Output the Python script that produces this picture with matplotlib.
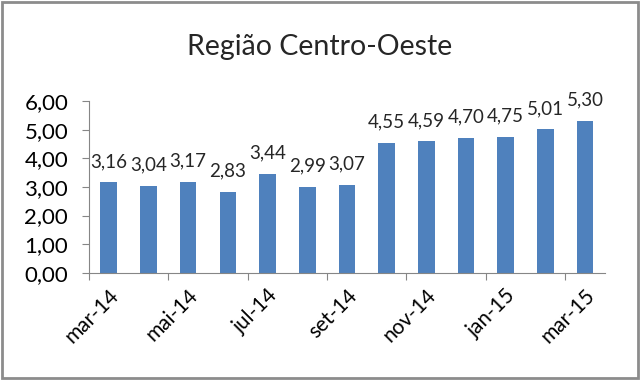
import matplotlib
matplotlib.use("Agg")
import matplotlib.pyplot as plt
from matplotlib.patches import Rectangle

months = ["mar-14", "abr-14", "mai-14", "jun-14", "jul-14", "ago-14", "set-14",
          "out-14", "nov-14", "dez-14", "jan-15", "fev-15", "mar-15"]
values = [3.16, 3.04, 3.17, 2.83, 3.44, 2.99, 3.07, 4.55, 4.59, 4.70, 4.75, 5.01, 5.30]
yticks = [0, 1, 2, 3, 4, 5, 6]

def br(v):
    return f"{v:.2f}".replace(".", ",")

plt.rcParams['font.family'] = ['Lato', 'DejaVu Sans']

fig = plt.figure(figsize=(6.4, 3.8), dpi=100)
ax = fig.add_axes([0.139, 0.282, 0.806, 0.452])

x = list(range(len(values)))
ax.bar(x, values, width=0.42, color='#4F81BD')
for xi, v in zip(x, values):
    ax.annotate(br(v), (xi, v), xytext=(0, 9), textcoords='offset points',
                ha='center', va='bottom', fontsize=13.5, color='#262626')

ax.set_xlim(-0.5, len(values) - 0.5)
ax.set_ylim(0, 6)
ax.set_yticks(yticks)
ax.set_yticklabels([br(t) for t in yticks], fontsize=16)
ax.set_xticks([i - 0.5 for i in range(0, len(values), 2)])
ax.set_xticklabels([])
ax.set_xticks(x[::2], minor=True)
ax.set_xticklabels(months[::2], minor=True, rotation=45, ha='right',
                   rotation_mode='anchor', fontsize=15)
ax.tick_params(axis='x', which='minor', length=0, pad=9)
ax.tick_params(axis='x', which='major', length=5, color='#868686', direction='out')
ax.tick_params(axis='y', length=5, color='#868686', pad=10)

for s in ['top', 'right']:
    ax.spines[s].set_visible(False)
for s in ['left', 'bottom']:
    ax.spines[s].set_color('#868686')

fig.text(0.5, 0.875, "Região Centro-Oeste", ha='center', va='center', fontsize=20.5,
         color='#262626')

fig.patches.append(Rectangle((0.003, 0.004), 0.994, 0.992, transform=fig.transFigure,
                             fill=False, edgecolor='#8c8c8c', linewidth=2))

fig.savefig("out.png", dpi=100)
